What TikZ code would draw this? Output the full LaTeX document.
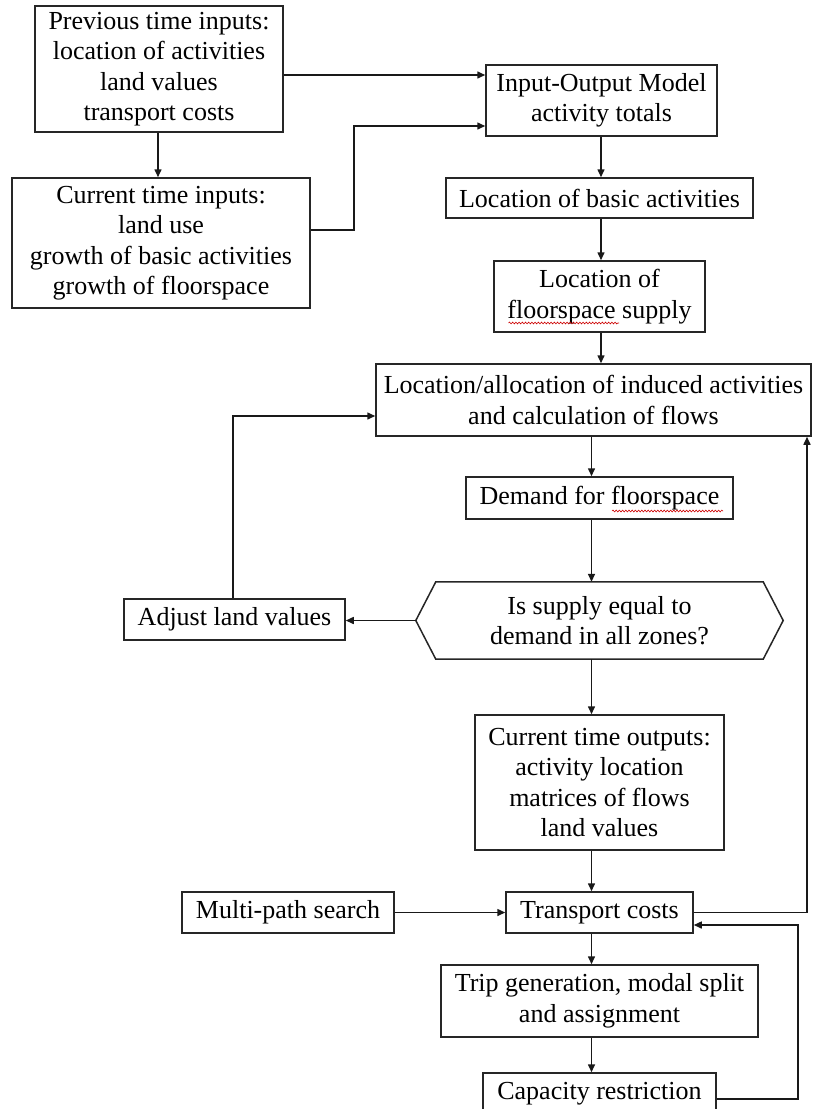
\documentclass[tikz,border=0pt]{standalone}
\usepackage{fontspec}
\setmainfont{Liberation Serif}
\usetikzlibrary{arrows.meta,decorations.pathmorphing}

\begin{document}
\begin{tikzpicture}[
  x=1pt, y=-1pt,
  font=\fontsize{26}{30.5}\selectfont,
  box/.style={draw=black!85, line width=1.5pt, align=center, inner sep=0pt,
              minimum width=#1},
  plain/.style={draw=none, align=center, inner sep=0pt, minimum width=#1},
  arr/.style={draw=black!90, line width=1.5pt,
              -{Triangle[length=8pt,width=7pt]}},
  squig/.style={draw=red!80!black, line width=0.6pt, decorate,
                decoration={snake, amplitude=0.9pt, segment length=3.2pt}}
]
\useasboundingbox (0,0) rectangle (812,1109);

% upper input boxes
\node[box=248, minimum height=126] (prev) at (159,69)
  {Previous time inputs:\\location of activities\\land values\\transport costs};
\node[box=298, minimum height=130] (cur) at (161,243)
  {Current time inputs:\\land use\\growth of basic activities\\growth of floorspace};

% main column
\node[box=231, minimum height=71] (io) at (601.5,100.5)
  {Input-Output Model\\activity totals};
\node[box=307, minimum height=40] (basic) at (599.5,198)
  {Location of basic activities};
\node[box=211, minimum height=71] (supply) at (599.5,296.5)
  {Location of\\floorspace supply};
\node[box=435, minimum height=72] (loc) at (593.5,400)
  {Location/allocation of induced activities\\and calculation of flows};
\node[box=267, minimum height=42] (demand) at (599.5,498)
  {Demand for floorspace};
\node[plain=367, minimum height=77] (hex) at (599.5,620.5)
  {Is supply equal to\\demand in all zones?};
\draw[black!85, line width=1.5pt]
  (hex.west) -- ([xshift=20pt]hex.north west) -- ([xshift=-20pt]hex.north east)
  -- (hex.east) -- ([xshift=-20pt]hex.south east) -- ([xshift=20pt]hex.south west)
  -- cycle;
\node[box=221, minimum height=41] (adjust) at (234.5,619.5)
  {Adjust land values};
\node[box=249, minimum height=135] (outputs) at (599.5,782.5)
  {Current time outputs:\\activity location\\matrices of flows\\land values};
\node[box=212, minimum height=41] (multi) at (288,912.5)
  {Multi-path search};
\node[box=187, minimum height=41] (transport) at (599.5,912.5)
  {Transport costs};
\node[box=317, minimum height=72] (trip) at (599.5,1001)
  {Trip generation, modal split\\and assignment};
\node[box=233, minimum height=41] (capacity) at (599.5,1093.5)
  {Capacity restriction};

% spell-check underlines
\draw[squig] ([xshift=-91pt,yshift=-26.5pt]supply.center) -- ([xshift=19.5pt,yshift=-26.5pt]supply.center);
\draw[squig] ([xshift=12.5pt,yshift=-13pt]demand.center) -- ([xshift=123.5pt,yshift=-13pt]demand.center);

% connectors
\draw[arr] (prev.east |- 0,75) -- (io.west |- 0,75);
\draw[arr] (prev.south -| 158,0) -- (cur.north -| 158,0);
\draw[arr] (cur.east |- 0,230) -- ++(43,0) |- (io.west |- 0,126);
\draw[arr] (io.south -| 601,0) -- (basic.north -| 601,0);
\draw[arr] (basic.south -| 601,0) -- (supply.north -| 601,0);
\draw[arr] (supply.south -| 601,0) -- (loc.north -| 601,0);
\draw[arr] (loc.south -| 591.5,0) -- (demand.north -| 591.5,0);
\draw[arr] (demand.south -| 591.5,0) -- (hex.north -| 591.5,0);
\draw[arr] (hex.west) -- (adjust.east |- hex.west);
\draw[arr] (adjust.north -| 233,0) |- (loc.west |- 0,416);
\draw[arr] (hex.south -| 591.5,0) -- (outputs.north -| 591.5,0);
\draw[arr] (outputs.south -| 591.5,0) -- (transport.north -| 591.5,0);
\draw[arr] (multi.east) -- (transport.west);
\draw[arr] (transport.east) -| (loc.south -| 807,0);
\draw[arr] (transport.south -| 591.5,0) -- (trip.north -| 591.5,0);
\draw[arr] (trip.south -| 591.5,0) -- (capacity.north -| 591.5,0);
\draw[arr] (capacity.east |- 0,1099) -- ++(81,0) |- (transport.east |- 0,925);
\end{tikzpicture}
\end{document}
